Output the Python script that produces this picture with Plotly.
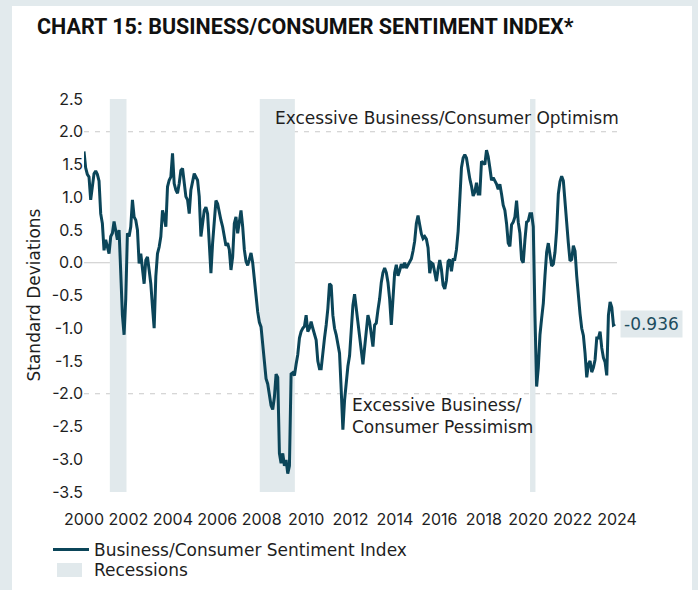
import pandas as pd
import plotly.graph_objects as go

# ---------------- data ----------------
start_date = "2000-01-01"
end_date = "2023-12-01"
index_values = [
    1.70, 1.45, 1.35, 1.31, 0.96, 1.21, 1.36, 1.40, 1.35,
    1.25, 0.75, 0.60, 0.19, 0.35, 0.24, 0.14, 0.40, 0.45, 0.63,
    0.50, 0.35, 0.50, -0.16, -0.80, -1.10, -0.55, 0.45, 0.40, 0.55,
    0.96, 0.70, 0.65, 0.50, -0.01, 0.14, -0.06, -0.32, 0.04, 0.09,
    -0.11, -0.32, -0.67, -1.00, -0.21, 0.14, 0.24, 0.40, 0.80, 0.70,
    0.55, 1.16, 1.26, 1.31, 1.67, 1.21, 1.11, 1.06, 1.21, 1.41,
    1.44, 1.26, 1.01, 0.96, 0.75, 1.11, 1.26, 1.36, 1.31, 1.26,
    1.01, 0.40, 0.60, 0.80, 0.85, 0.75, 0.30, -0.16, 0.30, 0.70,
    0.95, 0.90, 0.75, 0.65, 0.55, 0.40, 0.26, 0.30, 0.20, -0.11,
    0.09, 0.60, 0.70, 0.45, 0.65, 0.80, 0.55, 0.20, 0.02, -0.04,
    0.05, 0.15, 0.00, -0.30, -0.50, -0.75, -0.91, -0.98, -1.25, -1.62,
    -1.77, -1.85, -2.04, -2.18, -2.24, -2.05, -1.70, -1.75, -2.91, -3.06,
    -2.91, -3.10, -3.01, -3.22, -3.10, -1.70, -1.68, -1.72, -1.55, -1.40,
    -1.15, -1.05, -1.00, -0.97, -0.80, -1.05, -1.00, -0.90, -1.00, -1.10,
    -1.18, -1.50, -1.62, -1.62, -1.35, -1.15, -0.95, -0.70,
    -0.32, -0.35, -0.80, -1.00, -1.10, -1.23, -1.38, -1.94, -2.55, -2.10,
    -1.80, -1.58, -1.42, -1.10, -0.65, -0.48, -0.70, -0.90, -1.15, -1.38,
    -1.55, -1.30, -1.08, -0.80, -0.90, -1.08, -1.28, -0.95, -0.92, -0.72,
    -0.55, -0.30, -0.15, -0.08, -0.15, -0.30, -0.55, -0.95, -0.55, -0.15,
    -0.03, -0.20, -0.12, -0.02, -0.08, 0.00, -0.08, -0.04, 0.00, 0.06,
    0.18, 0.33, 0.60, 0.72, 0.58, 0.44, 0.37, 0.40, 0.36, 0.23,
    -0.16, 0.00, -0.02, -0.15, -0.28, -0.10, 0.04, -0.10, -0.34, -0.40,
    -0.27, 0.02, 0.05, -0.13, 0.05, 0.05, 0.20, 0.48, 0.95, 1.45,
    1.60, 1.65, 1.60, 1.40, 1.28, 1.17, 1.02, 1.08, 1.22, 1.05,
    1.05, 1.55, 1.53, 1.50, 1.72, 1.62, 1.45, 1.26, 1.30, 1.25,
    1.20, 1.12, 1.20, 1.05, 0.88, 0.80, 0.60, 0.30, 0.25, 0.58,
    0.62, 0.70, 0.95, 0.62, 0.45, 0.05, 0.00, 0.35, 0.62, 0.64,
    0.75, 0.75, 0.55, -0.80, -1.89, -1.60, -1.10, -0.85, -0.62, -0.20,
    0.16, 0.30, 0.15, -0.05, -0.02, 0.16, 0.50, 1.05, 1.24, 1.32,
    1.25, 0.92, 0.52, 0.30, 0.03, 0.05, 0.26, 0.18, -0.20, -0.52,
    -0.78, -1.00, -1.11, -1.38, -1.75, -1.55, -1.50, -1.67, -1.60, -1.48,
    -1.15, -1.15, -1.05, -1.30, -1.45, -1.52, -1.72, -0.80, -0.60, -0.68,
    -0.95, -0.936,
]
recession_starts = ["2001-03-01", "2007-12-01", "2020-02-01"]
recession_ends = ["2001-11-30", "2009-06-30", "2020-04-30"]
tick_years = [2000, 2002, 2004, 2006, 2008, 2010, 2012, 2014, 2016, 2018, 2020, 2022, 2024]
y_ticks = [2.5, 2.0, 1.5, 1.0, 0.5, 0.0, -0.5, -1.0, -1.5, -2.0, -2.5, -3.0, -3.5]
threshold_levels = [2.0, -2.0]

dates = pd.date_range(start_date, end_date, periods=len(index_values))

# ---------------- style ----------------
LINE = "#0b4559"
SHADE = "#e1e9ec"
BORDER = "#e2eaed"
GRID = "#c9c9c9"
TXT = "#1e1e1e"
TICKFONT = "Inter, Liberation Sans, Arial, sans-serif"
TEXTFONT = "DejaVu Sans, Verdana, sans-serif"

W, H = 698, 590
L, R, T, B = 84, 81, 99, 98
PW, PH = W - L - R, H - T - B


def px_x(p):
    return (p - L) / PW


def px_y(p):
    return (H - B - p) / PH


y_min, y_max = min(y_ticks), max(y_ticks)
x_min = f"{tick_years[0]}-01-01"
x_max = f"{tick_years[-1]}-01-01"

fig = go.Figure()

fig.add_trace(go.Scatter(
    x=dates, y=index_values, mode="lines",
    line=dict(color=LINE, width=3),
    name="Business/Consumer Sentiment Index",
))

shapes = []
# white card
shapes.append(dict(type="rect", xref="paper", yref="paper",
                   x0=px_x(12), x1=px_x(692), y0=px_y(600), y1=px_y(6),
                   fillcolor="white", line=dict(width=0), layer="below"))
for s, e in zip(recession_starts, recession_ends):
    shapes.append(dict(type="rect", xref="x", yref="y", x0=s, x1=e,
                       y0=y_min, y1=y_max, fillcolor=SHADE,
                       line=dict(width=0), layer="below"))
shapes.append(dict(type="line", xref="paper", yref="y", x0=0, x1=1, y0=0, y1=0,
                   line=dict(color=GRID, width=1.2), layer="below"))
for lv in threshold_levels:
    shapes.append(dict(type="line", xref="paper", yref="y", x0=0, x1=1, y0=lv, y1=lv,
                       line=dict(color=GRID, width=1.2, dash="5px,6px"), layer="below"))
# legend swatch for recessions
shapes.append(dict(type="rect", xref="paper", yref="paper",
                   x0=px_x(57), x1=px_x(82), y0=px_y(577), y1=px_y(563),
                   fillcolor=SHADE, line=dict(width=0), layer="above"))

annotations = [
    dict(text="<b>CHART 15: BUSINESS/CONSUMER SENTIMENT INDEX*</b>",
         xref="paper", yref="paper", x=px_x(35), y=px_y(27),
         xanchor="left", yanchor="middle", showarrow=False,
         font=dict(family="Roboto, sans-serif", size=21.5, color="#111")),
    dict(text="Standard Deviations", textangle=-90,
         xref="paper", yref="paper", x=px_x(33), y=0.5,
         xanchor="center", yanchor="middle", showarrow=False,
         font=dict(family=TEXTFONT, size=17, color=TXT)),
    dict(text="Excessive Business/Consumer Optimism",
         xref="x", yref="y", x=x_max, y=threshold_levels[0],
         xanchor="right", yanchor="bottom", xshift=4, yshift=2, showarrow=False,
         font=dict(family=TEXTFONT, size=17, color=TXT)),
    dict(text="Excessive Business/<br>Consumer Pessimism",
         xref="x", yref="y", x="2011-12-20", y=threshold_levels[1],
         xanchor="left", yanchor="top", align="left", yshift=1, showarrow=False,
         font=dict(family=TEXTFONT, size=17, color=TXT)),
    dict(text=f"{index_values[-1]:.3f}",
         xref="x", yref="y", x=dates[-1], y=index_values[-1],
         xanchor="left", yanchor="middle", xshift=5, showarrow=False,
         bgcolor=SHADE, borderpad=3,
         font=dict(family=TEXTFONT, size=17, color="#1d4d5f")),
    dict(text="Recessions",
         xref="paper", yref="paper", x=px_x(92), y=px_y(570),
         xanchor="left", yanchor="middle", showarrow=False,
         font=dict(family=TEXTFONT, size=17, color=TXT)),
]

fig.update_layout(
    width=W, height=H,
    margin=dict(l=L, r=R, t=T, b=B, autoexpand=False),
    paper_bgcolor=BORDER, plot_bgcolor="white",
    font=dict(family=TEXTFONT, size=16, color=TXT),
    shapes=shapes, annotations=annotations,
    showlegend=True,
    legend=dict(orientation="v", xref="container", yref="container",
                x=48 / W, y=1 - 550 / H,
                xanchor="left", yanchor="middle", bgcolor="rgba(0,0,0,0)",
                font=dict(family=TEXTFONT, size=17, color=TXT), itemwidth=36),
    hovermode=False,
)
fig.update_xaxes(
    type="date", range=[x_min, x_max], automargin=False,
    tickvals=[f"{y}-01-01" for y in tick_years],
    ticktext=[str(y) for y in tick_years],
    showgrid=False, zeroline=False, showline=False, ticks="",
    ticklabelstandoff=16,
    tickfont=dict(family=TICKFONT, size=16, color=TXT),
)
fig.update_yaxes(
    range=[y_min, y_max], tickvals=y_ticks, automargin=False,
    ticktext=[f"{v:.1f}" for v in y_ticks],
    showgrid=False, zeroline=False, showline=False, ticks="",
    tickfont=dict(family=TICKFONT, size=16, color=TXT),
)

fig.write_html(
    "out.html",
    config={"displayModeBar": False},
    post_script="document.body.style.margin='0';document.documentElement.style.overflow='hidden';",
)
